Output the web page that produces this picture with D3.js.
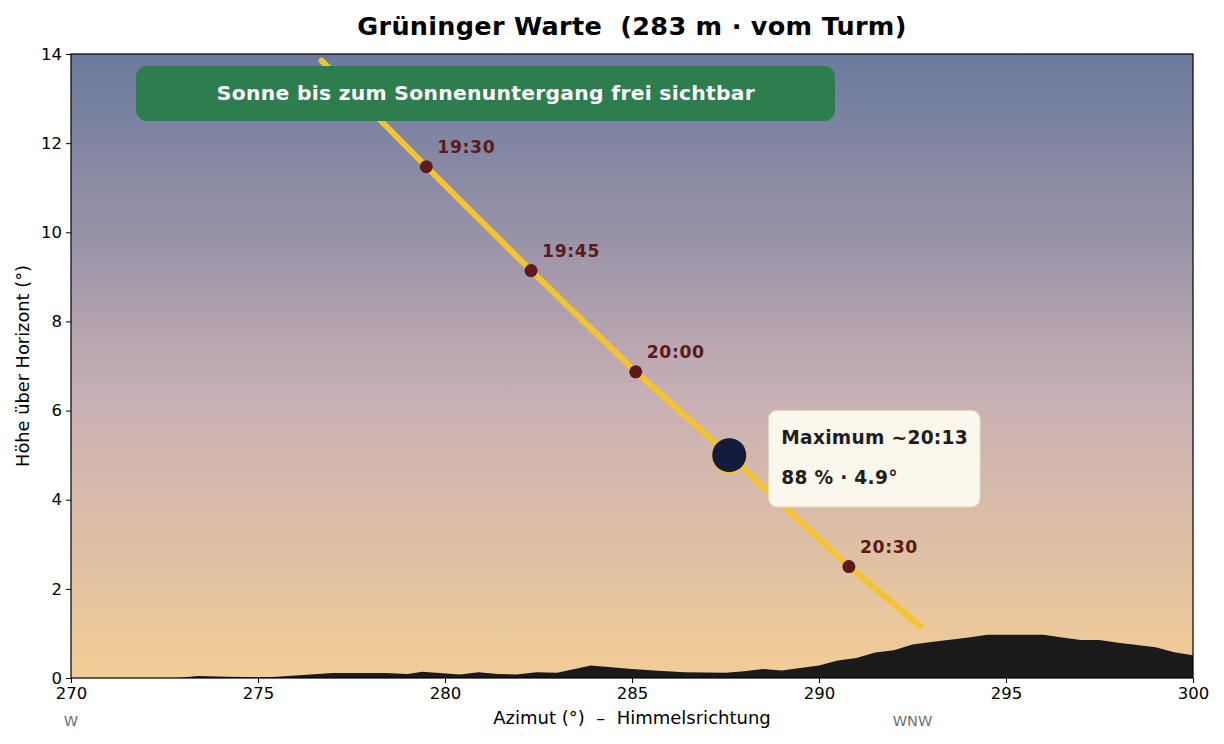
<!DOCTYPE html>
<html>
<head>
<meta charset="utf-8">
<script src="https://cdn.jsdelivr.net/npm/d3@7"></script>
<style>
  body { margin: 0; background: #fff; }
  svg { font-family: "DejaVu Sans", sans-serif; display: block; }
  svg text { white-space: pre; }
</style>
</head>
<body>
<div id="chart"></div>
<script>
// sun path (azimuth / altitude in degrees)
const pathAz  = [276.7, 279.5, 282.3, 285.1, 287.6, 290.8, 292.7];
const pathAlt = [13.85, 11.47, 9.14, 6.87, 5.0, 2.5, 1.17];

// labelled time marks
const markTimes = ["19:30", "19:45", "20:00", "20:30"];
const markAz    = [279.5, 282.3, 285.1, 290.8];
const markAlt   = [11.47, 9.14, 6.87, 2.5];

// maximum
const maxAz = 287.6;
const maxAlt = 5.0;
const maxLines = ["Maximum ~20:13", "88 % · 4.9°"];

// horizon silhouette
const horizonAz  = [270, 272.8, 273.4, 274.2, 275, 275.4, 277, 278.4, 279, 279.4, 280.4, 280.9, 281.4, 281.9, 282.45, 283, 283.9, 285, 285.7, 286.4, 287.5, 288, 288.5, 289, 290, 290.5, 291, 291.5, 292, 292.5, 293, 294, 294.5, 296, 296.5, 297, 297.5, 298, 299, 299.5, 300];
const horizonAlt = [0, 0, 0.045, 0.03, 0.015, 0.02, 0.11, 0.11, 0.09, 0.14, 0.08, 0.13, 0.09, 0.08, 0.13, 0.12, 0.28, 0.2, 0.16, 0.13, 0.12, 0.15, 0.2, 0.17, 0.28, 0.39, 0.45, 0.57, 0.62, 0.75, 0.81, 0.91, 0.97, 0.97, 0.91, 0.85, 0.85, 0.79, 0.69, 0.58, 0.51];

const xTicks = [270, 275, 280, 285, 290, 295, 300];
const yTicks = [0, 2, 4, 6, 8, 10, 12, 14];
const compassLabels = ["W", "WNW"];
const compassAz = [270, 292.5];

const title = "Grüninger Warte  (283 m · vom Turm)";
const banner = "Sonne bis zum Sonnenuntergang frei sichtbar";

const width = 1224, height = 744;
const margin = { top: 54, right: 31, bottom: 66, left: 71 };

const svg = d3.select("#chart").append("svg")
  .attr("width", width)
  .attr("height", height);

const x = d3.scaleLinear().domain([270, 300]).range([margin.left, width - margin.right]);
const y = d3.scaleLinear().domain([0, 14]).range([height - margin.bottom, margin.top]);

// sky gradient
const defs = svg.append("defs");
const grad = defs.append("linearGradient")
  .attr("id", "sky").attr("x1", 0).attr("y1", 0).attr("x2", 0).attr("y2", 1);
grad.append("stop").attr("offset", "0%").attr("stop-color", "#6b7a9c");
grad.append("stop").attr("offset", "30%").attr("stop-color", "#9a93a8");
grad.append("stop").attr("offset", "55%").attr("stop-color", "#c8b0b5");
grad.append("stop").attr("offset", "100%").attr("stop-color", "#f3cd96");

defs.append("clipPath").attr("id", "plot")
  .append("rect")
  .attr("x", margin.left).attr("y", margin.top)
  .attr("width", width - margin.left - margin.right)
  .attr("height", height - margin.top - margin.bottom);

svg.append("rect")
  .attr("x", margin.left).attr("y", margin.top)
  .attr("width", width - margin.left - margin.right)
  .attr("height", height - margin.top - margin.bottom)
  .attr("fill", "url(#sky)");

const plot = svg.append("g").attr("clip-path", "url(#plot)");

// horizon
const horizon = horizonAz.map((a, i) => [a, horizonAlt[i]]);
plot.append("path")
  .datum(horizon)
  .attr("fill", "#1a1a1a")
  .attr("d", d3.area().x(d => x(d[0])).y0(y(0)).y1(d => y(d[1])));

// sun path
const sunPath = pathAz.map((a, i) => [a, pathAlt[i]]);
plot.append("path")
  .datum(sunPath)
  .attr("fill", "none")
  .attr("stroke", "#f4c430")
  .attr("stroke-width", 6)
  .attr("stroke-linecap", "round")
  .attr("d", d3.line().x(d => x(d[0])).y(d => y(d[1])));

// time marks
const marks = markTimes.map((t, i) => ({ t: t, az: markAz[i], alt: markAlt[i] }));
plot.selectAll("circle.mark")
  .data(marks)
  .enter()
  .append("circle")
  .attr("class", "mark")
  .attr("cx", d => x(d.az))
  .attr("cy", d => y(d.alt))
  .attr("r", 6.5)
  .attr("fill", "#5c1a1a");

plot.selectAll("text.mark")
  .data(marks)
  .enter()
  .append("text")
  .attr("class", "mark")
  .attr("x", d => x(d.az) + 11)
  .attr("y", d => y(d.alt) - 14)
  .attr("fill", "#5c1a1a")
  .attr("font-weight", "bold")
  .attr("font-size", 17.3)
  .attr("letter-spacing", 0.6)
  .text(d => d.t);

// maximum marker
plot.append("circle")
  .attr("cx", x(maxAz)).attr("cy", y(maxAlt) + 1.5)
  .attr("r", 17.5)
  .attr("fill", "#f4c430");
plot.append("circle")
  .attr("cx", x(maxAz)).attr("cy", y(maxAlt))
  .attr("r", 17)
  .attr("fill", "#151b3b");

// maximum annotation box
const ax = x(maxAz) + 39, ay = y(maxAlt) - 45;
svg.append("rect")
  .attr("x", ax).attr("y", ay)
  .attr("width", 212).attr("height", 97)
  .attr("rx", 9)
  .attr("fill", "#fbf7ec")
  .attr("stroke", "#d6cfae")
  .attr("stroke-width", 1);
svg.selectAll("text.maxlbl")
  .data(maxLines)
  .enter()
  .append("text")
  .attr("class", "maxlbl")
  .attr("x", ax + 13)
  .attr("y", (d, i) => ay + 34 + i * 40)
  .attr("fill", "#1e1e1e")
  .attr("font-weight", "bold")
  .attr("font-size", 18.6)
  .attr("letter-spacing", 0.3)
  .text(d => d);

// banner
svg.append("rect")
  .attr("x", 136).attr("y", 66)
  .attr("width", 699).attr("height", 55)
  .attr("rx", 11)
  .attr("fill", "#2e7d4f");
svg.append("text")
  .attr("x", 486).attr("y", 100)
  .attr("text-anchor", "middle")
  .attr("fill", "#ffffff")
  .attr("font-weight", "bold")
  .attr("font-size", 20.3)
  .attr("letter-spacing", 0.3)
  .text(banner);

// axes
const xAxis = svg.append("g")
  .attr("transform", `translate(0,${height - margin.bottom})`)
  .call(d3.axisBottom(x).tickValues(xTicks).tickSize(5).tickPadding(4));
const yAxis = svg.append("g")
  .attr("transform", `translate(${margin.left},0)`)
  .call(d3.axisLeft(y).tickValues(yTicks).tickSize(5).tickPadding(4));
[xAxis, yAxis].forEach(g => {
  g.selectAll("text").attr("font-size", 16.5).attr("fill", "#000").attr("font-family", "DejaVu Sans");
  g.selectAll("line").attr("stroke", "#000");
  g.select(".domain").remove();
});

// frame
svg.append("rect")
  .attr("x", margin.left).attr("y", margin.top)
  .attr("width", width - margin.left - margin.right)
  .attr("height", height - margin.top - margin.bottom)
  .attr("fill", "none")
  .attr("stroke", "#000")
  .attr("stroke-width", 1.2);

// compass labels
svg.selectAll("text.compass")
  .data(compassLabels)
  .enter()
  .append("text")
  .attr("class", "compass")
  .attr("x", (d, i) => x(compassAz[i]))
  .attr("y", 726)
  .attr("text-anchor", "middle")
  .attr("fill", "#707070")
  .attr("font-size", 14.5)
  .text(d => d);

// axis labels
svg.append("text")
  .attr("x", (margin.left + width - margin.right) / 2)
  .attr("y", 724)
  .attr("text-anchor", "middle")
  .attr("font-size", 18)
  .text("Azimut (°)  –  Himmelsrichtung");

svg.append("text")
  .attr("transform", `translate(29,${(margin.top + height - margin.bottom) / 2}) rotate(-90)`)
  .attr("text-anchor", "middle")
  .attr("font-size", 17.8)
  .text("Höhe über Horizont (°)");

// title
svg.append("text")
  .attr("x", (margin.left + width - margin.right) / 2)
  .attr("y", 35)
  .attr("text-anchor", "middle")
  .attr("font-weight", "bold")
  .attr("font-size", 25.5)
  .attr("letter-spacing", 0.3)
  .text(title);
</script>
</body>
</html>
